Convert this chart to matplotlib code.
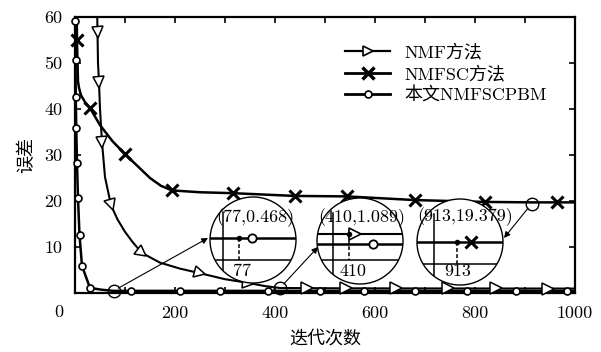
import numpy as np
import matplotlib
matplotlib.use('Agg')
import matplotlib.pyplot as plt
from matplotlib.markers import MarkerStyle
from matplotlib.transforms import Affine2D
from matplotlib.patches import Ellipse
from matplotlib.lines import Line2D

plt.rcParams['font.family'] = ['cmr10', 'Noto Sans CJK SC', 'DejaVu Sans']
plt.rcParams['axes.formatter.use_mathtext'] = True
plt.rcParams['font.size'] = 13

# data
nmf_x = [44, 45, 46, 48, 50, 54, 60, 72, 85, 100, 115, 134, 170, 210, 250, 300, 346, 380, 410,
         464, 542, 642, 746, 842, 946, 1000]
nmf_y = [64, 56.7, 50, 45.9, 40, 32.8, 25.2, 19.1, 16.0, 13.3, 11.1, 8.7, 6.6, 5.3, 4.3, 3.0, 2.2, 1.5,
         1.089, 1.05, 1.02, 1.0, 0.99, 0.98, 0.97, 0.97]
nmf_marks = [1, 3, 5, 7, 11, 14, 16, 19, 20, 21, 22, 23, 24]

nmfsc_x = [3, 4, 5, 6, 8, 12, 20, 30, 50, 75, 100, 125, 150, 172, 194, 250, 316, 440, 544, 680, 820,
           913, 964, 1000]
nmfsc_y = [64, 55, 50, 46, 44.6, 43, 41.5, 40.2, 36.5, 33, 30.2, 27.6, 25.0, 23.3, 22.3, 21.9, 21.7,
           21.1, 21.0, 20.2, 19.8, 19.7, 19.7, 19.7]
nmfsc_marks = [1, 7, 10, 14, 16, 17, 18, 19, 20, 22]

pbm_x = [0.5, 0.8, 1, 1.5, 2.5, 4, 6, 9, 14, 30, 54, 77, 112, 210, 290, 386, 490, 578, 680, 784,
         882, 984, 1000]
pbm_y = [64, 59.1, 50.6, 42.6, 35.9, 28.3, 20.6, 12.6, 5.9, 1.1, 0.7, 0.468, 0.46, 0.46, 0.46, 0.46,
         0.46, 0.46, 0.46, 0.46, 0.46, 0.46, 0.46]
pbm_marks = [1, 2, 3, 4, 5, 6, 7, 8, 9, 12, 13, 14, 15, 16, 17, 18, 19, 20, 21]

labels = ['NMF方法', 'NMFSC方法', '本文NMFSCPBM']
xtick_vals = list(range(0, 1001, 100))
ytick_vals = list(range(0, 61, 10))

# zoomed points: (x, y, title, x label)
zoom_pts = [(77, 0.468, '(77,0.468)', '77'),
            (410, 1.089, '(410,1.089)', '410'),
            (913, 19.379, '(913,19.379)', '913')]

W, H = 601, 352
AXL, AXT, AXW, AXH = 75, 17, 500, 276

fig = plt.figure(figsize=(W / 100, H / 100), dpi=100)
ax = fig.add_axes([AXL / W, 1 - (AXT + AXH) / H, AXW / W, AXH / H])
ax.set_xlim(0, 1000)
ax.set_ylim(0, 60)
ax.set_xticks(xtick_vals)
ax.set_xticklabels(['' if (v == 0 or v % 200) else str(v) for v in xtick_vals])
ax.set_yticks(ytick_vals)
ax.set_yticklabels(['' if v == 0 else str(v) for v in ytick_vals])
ax.tick_params(direction='in', top=True, right=True, length=4, width=1.2, pad=9)
for s in ax.spines.values():
    s.set_linewidth(1.6)
ax.text(-0.024, -0.069, '0', transform=ax.transAxes, ha='right', va='center')


def rotated_markers(x, y, idx, base, **kw):
    pts = ax.transData.transform(np.column_stack([x, y]))
    for i in idx:
        j0, j1 = max(i - 1, 0), min(i + 1, len(x) - 1)
        d = pts[j1] - pts[j0]
        ang = np.degrees(np.arctan2(d[1], d[0]))
        m = MarkerStyle(base, transform=Affine2D().rotate_deg(ang))
        ax.plot(x[i], y[i], marker=m, linestyle='none', zorder=4, clip_on=False, **kw)


ax.plot(nmf_x, nmf_y, color='k', lw=1.5, zorder=3)
rotated_markers(nmf_x, nmf_y, nmf_marks, '>', ms=8, mfc='w', mec='k', mew=1.1)

ax.plot(nmfsc_x, nmfsc_y, color='k', lw=1.8, zorder=3)
ax.plot([nmfsc_x[i] for i in nmfsc_marks], [nmfsc_y[i] for i in nmfsc_marks], 'x',
        color='k', ms=8, mew=2.2, zorder=4, clip_on=False)

ax.plot(pbm_x, pbm_y, color='k', lw=1.8, zorder=3)
ax.plot([pbm_x[i] for i in pbm_marks], [pbm_y[i] for i in pbm_marks], 'o',
        mfc='w', mec='k', ms=5, mew=1.2, zorder=4, clip_on=False)

h1 = Line2D([], [], color='k', lw=1.6, marker='>', ms=7, mfc='w', mec='k', mew=1.2)
h2 = Line2D([], [], color='k', lw=2, marker='x', ms=8, mew=2.5)
h3 = Line2D([], [], color='k', lw=2, marker='o', ms=5, mfc='w', mew=1.2)
ax.legend([h1, h2, h3], labels, loc='upper left', bbox_to_anchor=(0.54, 0.903),
          frameon=False, handlelength=2.5, handletextpad=0.8, labelspacing=0.25,
          borderaxespad=0, borderpad=0)

fig.text(26 / W, 1 - 155 / H, '误差', rotation=90, ha='center', va='center')
fig.text(325 / W, 1 - 338 / H, '迭代次数', ha='center', va='center')

# magnifier circles
R = 43


def to_ax(px, py):
    return ((px - AXL) / AXW, (AXT + AXH - py) / AXH)


def inset(center, title, title_off, vdx, lines, dot, base_dy, xlab, xlab_off):
    cx, cy = to_ax(*center)
    circ = Ellipse((cx, cy), 2 * R / AXW, 2 * R / AXH, transform=ax.transAxes,
                   fc='w', ec='k', lw=1, zorder=6)
    ax.add_patch(circ)

    def p(dx, dy):
        return cx + dx / AXW, cy + dy / AXH

    def seg(a, b, **kw):
        ln, = ax.plot([a[0], b[0]], [a[1], b[1]], transform=ax.transAxes, color='k',
                      zorder=7, **kw)
        ln.set_clip_path(circ)

    seg(p(vdx, 28), p(vdx, -R), lw=1.1)
    seg(p(-R, base_dy), p(R, base_dy), lw=1.1)
    for dy, lw, mk, mdx, mkw in lines:
        seg(p(-R, dy), p(R, dy), lw=lw)
        ax.plot(*p(mdx, dy), marker=mk, transform=ax.transAxes, color='k', zorder=8, **mkw)
    ddx, ddy = dot
    seg(p(ddx, ddy), p(ddx, base_dy), lw=1.1, ls=(0, (2.5, 1.5)))
    ax.plot(*p(ddx, ddy), 'o', ms=3, color='k', transform=ax.transAxes, zorder=8)
    ax.text(*p(*title_off), title, transform=ax.transAxes, ha='center', va='center', zorder=9)
    ax.text(*p(*xlab_off), xlab, transform=ax.transAxes, ha='center', va='center', zorder=9)


o_kw = dict(ms=6, mfc='w', mec='k', mew=1.3)
t_kw = dict(ms=8, mfc='w', mec='k', mew=1.2)
x_kw = dict(ms=8, mew=2.2)

inset((253, 240), zoom_pts[0][2], (2, 22), -30, [(2, 1.8, 'o', -1, o_kw)], (-14, 2), -20,
      zoom_pts[0][3], (-11, -31))
inset((360, 241), zoom_pts[1][2], (2, 23), -27,
      [(7, 1.5, '>', -5, t_kw), (-3, 1.8, 'o', 13, o_kw)], (-11, 7), -19,
      zoom_pts[1][3], (-7, -30))
inset((460, 242), zoom_pts[2][2], (5, 25), -26, [(0, 1.8, 'x', 11, x_kw)], (-3, 0), -22,
      zoom_pts[2][3], (-2, -29))

# pointers from the data to the magnifiers
targets = [(208, 238), (318, 247), (504, 238)]
for (zx, zy, _, _), t in zip(zoom_pts, targets):
    ax.plot(zx, zy, 'o', ms=9, mfc='none', mec='k', mew=1, zorder=9, clip_on=False)
    ax.annotate('', xy=to_ax(*t), xycoords='axes fraction', xytext=(zx, zy), textcoords='data',
                arrowprops=dict(arrowstyle='-|>', color='k', lw=0.8, shrinkA=4, shrinkB=0,
                                mutation_scale=9), zorder=9)

fig.savefig('out.png', dpi=100)
